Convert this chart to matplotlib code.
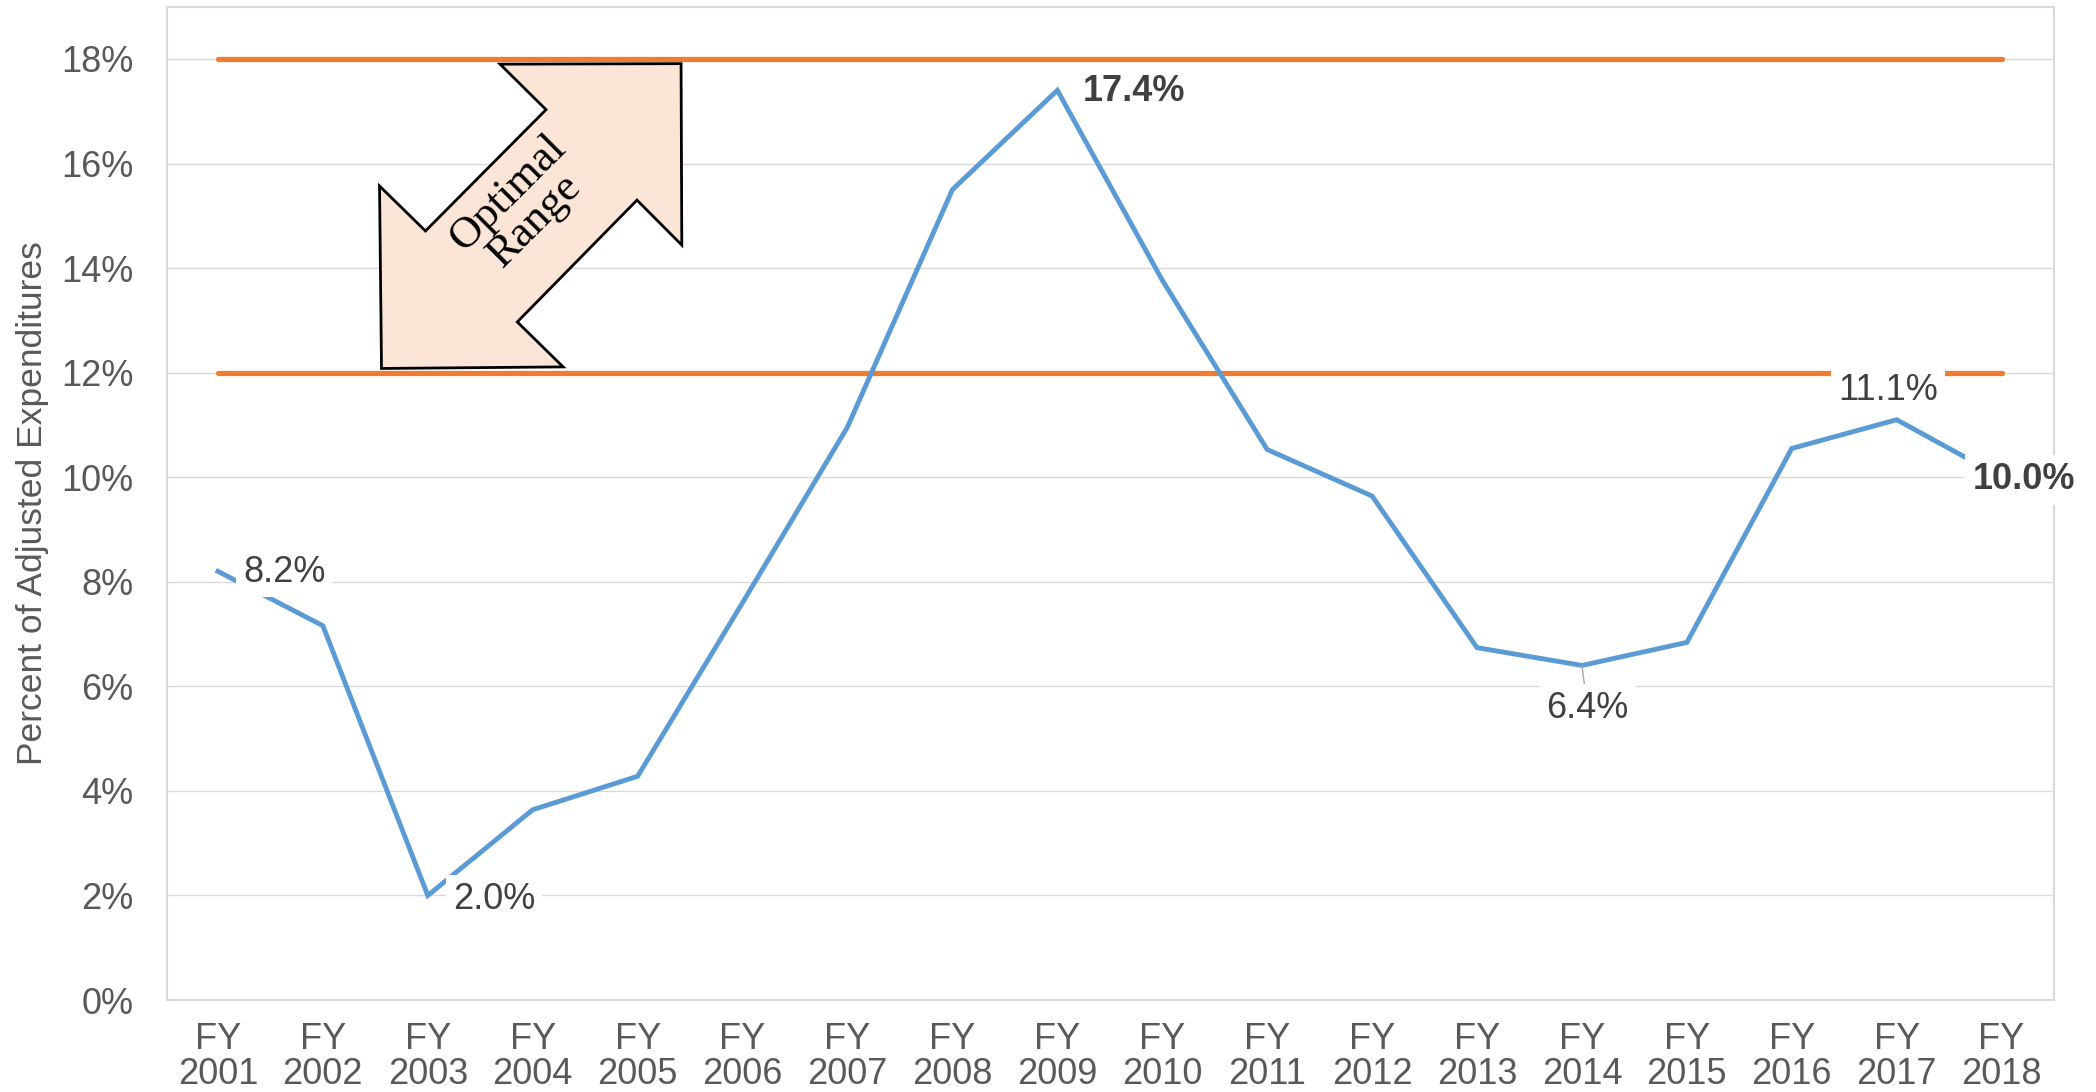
import matplotlib
matplotlib.use("Agg")
import matplotlib.pyplot as plt
from matplotlib.patches import Polygon

# ── Data ────────────────────────────────────────────────────────────────────
years = ["FY\n2001", "FY\n2002", "FY\n2003", "FY\n2004", "FY\n2005", "FY\n2006",
         "FY\n2007", "FY\n2008", "FY\n2009", "FY\n2010", "FY\n2011", "FY\n2012",
         "FY\n2013", "FY\n2014", "FY\n2015", "FY\n2016", "FY\n2017", "FY\n2018"]
reserve_pct = [8.2, 7.16, 2.0, 3.64, 4.28, 7.6, 10.96, 15.5, 17.4, 13.77,
               10.53, 9.64, 6.74, 6.4, 6.84, 10.55, 11.1, 10.0]
optimal_low = 12.0
optimal_high = 18.0
y_ticks = [0, 2, 4, 6, 8, 10, 12, 14, 16, 18]

# labelled points: index -> (offset pts, ha, va, bold)
labels = {
    0:  ((18, -1), "left", "center", False),
    2:  ((18, -3), "left", "center", False),
    8:  ((18, -1), "left", "center", True),
    13: ((4, -31), "center", "center", False),
    16: ((-6, 21), "center", "center", False),
    17: ((-21, -2), "left", "center", True),
}

# ── Style ───────────────────────────────────────────────────────────────────
BLUE   = "#5B9BD5"
ORANGE = "#ED7D31"
GRID   = "#D9D9D9"
TICK   = "#595959"
LABEL  = "#404040"

plt.rcParams["font.family"] = ["Liberation Sans", "DejaVu Sans"]

fig = plt.figure(figsize=(20.96, 10.92), dpi=100)
ax = fig.add_axes([0.0797, 0.0842, 0.9003, 0.9097])

x = list(range(len(years)))

# optimal range bounds
ax.plot(x, [optimal_high] * len(x), color=ORANGE, lw=3.8, solid_capstyle="round", zorder=2)
ax.plot(x, [optimal_low] * len(x), color=ORANGE, lw=3.8, solid_capstyle="round", zorder=2)

# main series
ax.plot(x, reserve_pct, color=BLUE, lw=3.5, solid_joinstyle="miter", zorder=2.2)

for i, (off, ha, va, bold) in labels.items():
    arrow = None
    if i == 13:
        arrow = dict(arrowstyle="-", color="#A6A6A6", lw=1.0, shrinkA=0, shrinkB=0)
    ax.annotate(f"{reserve_pct[i]:.1f}%", xy=(i, reserve_pct[i]), xytext=off,
                textcoords="offset points", ha=ha, va=va, fontsize=26,
                color=LABEL, fontweight="bold" if bold else "normal",
                bbox=dict(boxstyle="square,pad=0.2", fc="white", ec="none"),
                arrowprops=arrow, annotation_clip=False, zorder=5)

# "Optimal Range" double arrow shape (annotation)
arrow_shape = [(4.414, 17.91), (2.689, 17.90), (3.127, 17.03), (1.978, 14.71),
               (1.540, 15.57), (1.559, 12.08), (3.290, 12.11), (2.853, 12.97),
               (3.994, 15.30), (4.421, 14.44)]
ax.add_patch(Polygon(arrow_shape, closed=True, fc="#FBE5D6", ec="black",
                     lw=2.0, joinstyle="miter", zorder=4))
ax.text(2.89, 15.17, "Optimal\nRange", rotation=45, ha="center", va="center",
        rotation_mode="anchor", fontsize=32, family="Liberation Serif",
        linespacing=0.95, zorder=6)

# ── Axes ────────────────────────────────────────────────────────────────────
ax.set_xlim(-0.485, 17.5)
ax.set_ylim(0, 19)
ax.set_xticks(x)
ax.set_xticklabels(years, linespacing=1.0)
ax.set_yticks(y_ticks)
ax.set_yticklabels([f"{v}%" for v in y_ticks])
ax.tick_params(axis="both", length=0, labelsize=26, labelcolor=TICK)
ax.tick_params(axis="y", pad=24)
ax.tick_params(axis="x", pad=16)

ax.set_axisbelow(True)
ax.grid(axis="y", color=GRID, lw=1.0)
for side in ["left", "right", "top", "bottom"]:
    ax.spines[side].set_color(GRID)
    ax.spines[side].set_linewidth(1.5)

ax.set_ylabel("Percent of Adjusted Expenditures", fontsize=25.5, color=TICK, labelpad=9)

fig.savefig("out.png", dpi=100)
